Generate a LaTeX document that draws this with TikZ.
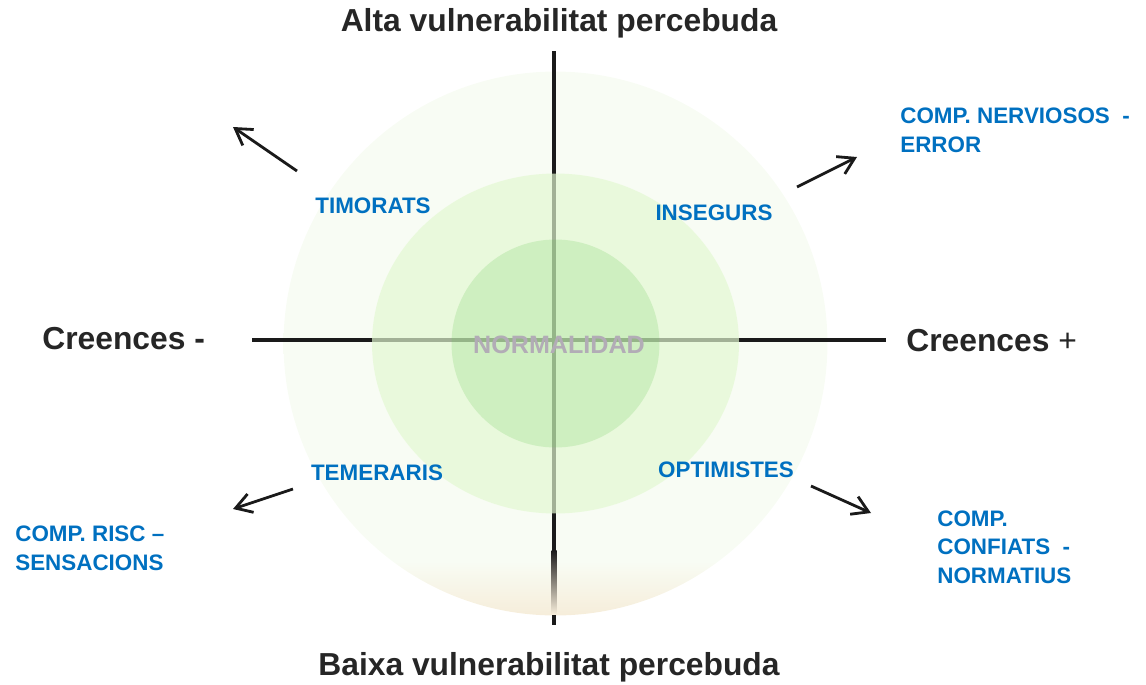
\documentclass[tikz,border=0pt]{standalone}
\usepackage{fontspec}
\setmainfont{Liberation Sans}
\usetikzlibrary{positioning, arrows.meta}

\definecolor{titlegrey}{RGB}{38,38,38}
\definecolor{axisblack}{RGB}{26,26,26}
\definecolor{compblue}{RGB}{0,112,192}
\definecolor{normgrey}{RGB}{178,172,182}
\definecolor{outergreen}{RGB}{248,252,244}
\definecolor{outercream}{RGB}{246,237,218}
\definecolor{midgreen}{RGB}{227,249,209}
\definecolor{innergreen}{RGB}{100,200,80}

\pgfdeclareverticalshading{outerring}{100bp}{color(0bp)=(outercream); color(25bp)=(outercream); color(30bp)=(outergreen); color(100bp)=(outergreen)}

\tikzset{
    axistitle/.style={font=\fontsize{18.1}{22}\selectfont\bfseries, text=titlegrey, inner sep=0pt},
    quadrant/.style={font=\fontsize{12.75}{16}\selectfont\bfseries, text=compblue, inner sep=0pt},
    behaviour/.style={quadrant, align=left, anchor=base west},
    axisline/.style={draw=axisblack, line width=2.8pt},
    pointer/.style={draw=axisblack, line width=1.6pt, -{Straight Barb[length=9pt,width=11pt]}},
}

\begin{document}
\begin{tikzpicture}[x=0.02cm, y=-0.02cm]
    \useasboundingbox (0,0) rectangle (1146,684);
    \coordinate (O) at (555.5,343.5);
    \coordinate (AxTop) at (554,51);
    \coordinate (AxBot) at (554,625);
    \coordinate (AxLeft) at (252,340);
    \coordinate (AxRight) at (886,340);
    \shade [shading=outerring] (O) circle [radius=5.44cm];
    \draw [axisline] (AxTop) -- (AxBot);
    \draw [axisline] (AxLeft) -- (AxRight);
    \shade [top color=axisblack, bottom color=outercream] (551.5,550) rectangle (556.5,614);
    \fill [midgreen, fill opacity=0.68] (O) ellipse [x radius=3.67cm, y radius=3.4cm];
    \fill [innergreen, fill opacity=0.2] (O) circle [radius=2.08cm];
    \node [axistitle, anchor=base] (Alta) at (559,31) {Alta vulnerabilitat percebuda};
    \node [axistitle, anchor=base] (Baixa) at (549,675) {Baixa vulnerabilitat percebuda};
    \node [axistitle, anchor=base west] (CrMinus) at (42,349) {Creences -};
    \node [axistitle, anchor=base west] (CrPlus) at (906,351) {Creences {\mdseries+}};
    \node [quadrant, anchor=base] (Tim) at (373,213) {TIMORATS};
    \node [quadrant, anchor=base] (Ins) at (714,220) {INSEGURS};
    \node [quadrant, anchor=base] (Tem) at (377,480) {TEMERARIS};
    \node [quadrant, anchor=base] (Opt) at (726,477) {OPTIMISTES};
    \node [font=\fontsize{14.3}{17}\selectfont\bfseries, text=normgrey, inner sep=0pt, anchor=base] (Norm) at (559,353) {NORMALIDAD};
    \node [behaviour] (CompNerv) at (900,152) {COMP. NERVIOSOS~~-\\ERROR};
    \node [behaviour] (CompRisc) at (15,570) {COMP. RISC~–\\SENSACIONS};
    \node [behaviour] (CompConf) at (937,583) {COMP.\\CONFIATS~~-\\NORMATIUS};
    \coordinate (TimTail) at (297,171);
    \coordinate (TimTip) at (233,127);
    \coordinate (InsTail) at (797,187);
    \coordinate (InsTip) at (857,157);
    \coordinate (TemTail) at (293,489);
    \coordinate (TemTip) at (233,509);
    \coordinate (OptTail) at (811,486);
    \coordinate (OptTip) at (871,513);
    \draw [pointer] (TimTail) -- (TimTip);
    \draw [pointer] (InsTail) -- (InsTip);
    \draw [pointer] (TemTail) -- (TemTip);
    \draw [pointer] (OptTail) -- (OptTip);
\end{tikzpicture}
\end{document}
